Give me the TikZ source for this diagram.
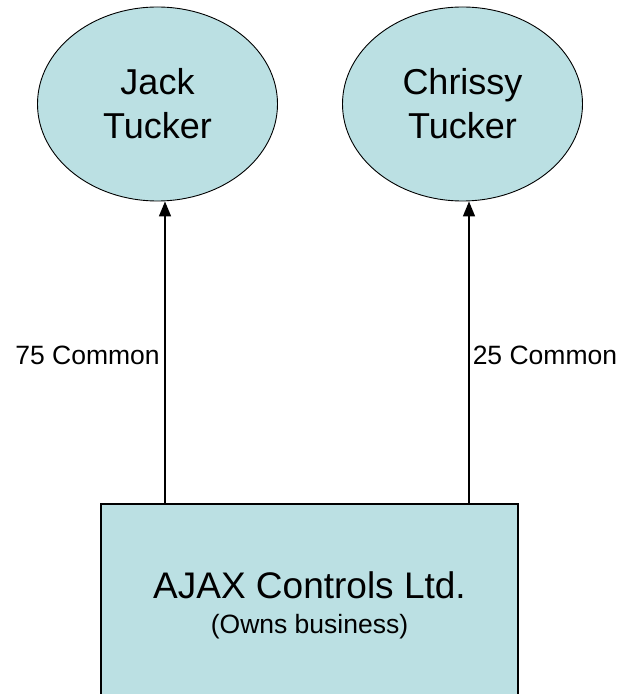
\documentclass[tikz,border=0pt]{standalone}
\usepackage{fontspec}
\setmainfont{Liberation Sans}
\usepackage{tikz}
\usetikzlibrary{calc,positioning,arrows.meta,shapes}
\definecolor{ownfill}{RGB}{187,224,227}

\begin{document}
\begin{tikzpicture}[x=1pt,y=1pt,
    person/.style={ellipse, draw, line width=0.9pt, fill=ownfill, minimum width=240pt,
        minimum height=194pt, inner sep=0pt, align=center, font=\fontsize{36}{44}\selectfont},
    company/.style={rectangle, draw, line width=1.6pt, fill=ownfill, minimum width=417pt,
        minimum height=202pt, align=center, font=\fontsize{37}{37}\selectfont},
    share/.style={line width=1.5pt, -{Triangle[width=12pt,length=15pt]}},
    sharelabel/.style={font=\fontsize{26.5}{30}\selectfont, inner sep=3pt}]
   \useasboundingbox (0,0) rectangle (621,694);
   \clip (0,0) rectangle (621,694);

         % owners
         \node[person] (jack) at (157.5, 590){Jack\\Tucker};
         \node[person] (chrissy) at (462.5, 590){Chrissy\\Tucker};

         % the business
         \node[company] (ajax) at (309.5, 89){AJAX Controls Ltd.\\[-2pt]{\fontsize{26.5}{30}\selectfont (Owns business)}};

         % shares held
         \draw[share] ([xshift=7.5pt]jack.south |- ajax.north) to
             node[sharelabel, pos=0.49, left, xshift=-1.5pt]{75 Common} ([xshift=7.5pt]jack.south);
         \draw[share] ([xshift=6.5pt]chrissy.south |- ajax.north) to
             node[sharelabel, pos=0.49, right]{25 Common} ([xshift=6.5pt]chrissy.south);

\end{tikzpicture}
\end{document}
